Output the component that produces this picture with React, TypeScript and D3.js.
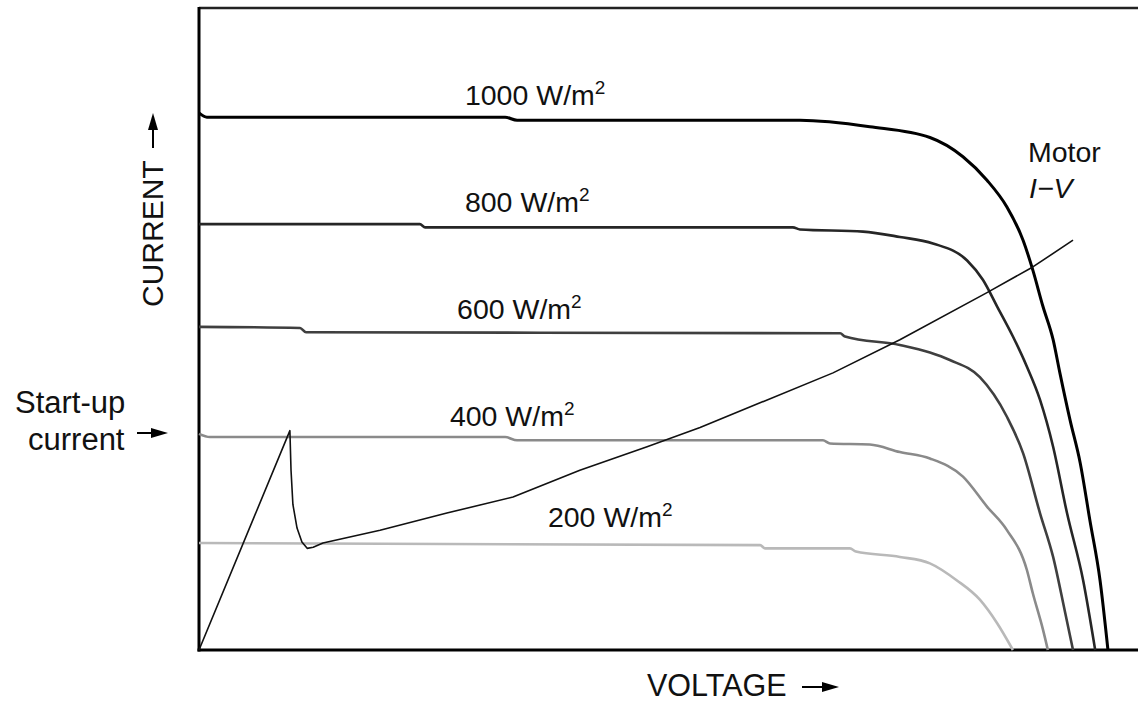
import React from "react";
import * as d3 from "d3";

type Pt = [number, number]; // [voltage, current]

// irradiance levels, W/m²
const levels = [1000, 800, 600, 400, 200];
const levelColors = ["#000000", "#262626", "#3f3f3f", "#8a8a8a", "#b9b9b9"];
const levelWidths = [3, 2.6, 2.6, 2.6, 2.6];

const curve1000: Pt[] = [
  [0, 5.02], [0.21, 4.98], [8.15, 4.98], [8.47, 4.95], [16.0, 4.95], [17.86, 4.89],
  [19.46, 4.79], [20.34, 4.61], [20.98, 4.39], [21.51, 4.14], [21.94, 3.83], [22.2, 3.55],
  [22.47, 3.21], [22.74, 2.9], [22.92, 2.59], [23.19, 2.15], [23.46, 1.75], [23.72, 1.21],
  [23.99, 0.65], [24.2, 0],
];
const curve800: Pt[] = [
  [0, 3.98], [5.88, 3.98], [6.02, 3.95], [15.81, 3.95], [16.0, 3.93], [17.68, 3.91],
  [18.66, 3.86], [19.54, 3.8], [20.45, 3.64], [20.87, 3.46], [21.25, 3.21], [21.67, 2.93],
  [22.04, 2.65], [22.39, 2.34], [22.74, 1.9], [23.11, 1.28], [23.54, 0.65], [23.86, 0],
];
const curve600: Pt[] = [
  [0, 3.02], [2.69, 3.01], [2.85, 2.97], [17.07, 2.96], [17.2, 2.93], [18.66, 2.85],
  [19.46, 2.78], [19.99, 2.71], [20.79, 2.55], [21.51, 2.18], [21.94, 1.84], [22.39, 1.28],
  [22.74, 0.87], [23.06, 0.35], [23.27, 0],
];
const curve400: Pt[] = [
  [0, 2.02], [0.29, 1.99], [8.15, 1.99], [8.47, 1.96], [16.61, 1.96], [16.8, 1.93],
  [17.86, 1.92], [18.66, 1.85], [19.46, 1.79], [20.34, 1.62], [20.98, 1.34], [21.51, 1.12],
  [22.04, 0.75], [22.2, 0.53], [22.47, 0.19], [22.6, 0],
];
const curve200: Pt[] = [
  [0, 1.0], [14.94, 0.98], [15.07, 0.95], [17.33, 0.95], [17.49, 0.92], [18.66, 0.87],
  [19.46, 0.81], [20.18, 0.65], [20.79, 0.47], [21.25, 0.25], [21.67, 0],
];
const curves = [curve1000, curve800, curve600, curve400, curve200];

const motorCurve: Pt[] = [
  [0, 0], [2.42, 2.05], [2.45, 1.68], [2.5, 1.36], [2.61, 1.14], [2.74, 1.01], [2.88, 0.95],
  [3.04, 0.96], [3.3, 1.0], [4.82, 1.12], [6.6, 1.28], [8.36, 1.43], [10.14, 1.68],
  [11.93, 1.9], [13.34, 2.08], [16.88, 2.59], [18.66, 2.9], [20.98, 3.34], [22.2, 3.58],
  [23.27, 3.83],
];

// label anchors: [voltage, current] of the text baseline start
const levelLabelPos: Pt[] = [
  [7.08, 5.0], [7.08, 4.0], [6.87, 3.0], [6.68, 2.0], [9.29, 1.06],
];

export default function App() {
  const width = 1138;
  const height = 703;
  const x = d3.scaleLinear().domain([0, 25]).range([199, 1138]);
  const y = d3.scaleLinear().domain([0, 6]).range([650, 8]);
  const smooth = d3
    .line<Pt>()
    .x((d) => x(d[0]))
    .y((d) => y(d[1]))
    .curve(d3.curveMonotoneX);
  const line = d3
    .line<Pt>()
    .x((d) => x(d[0]))
    .y((d) => y(d[1]));

  const font = "'Liberation Sans', Arial, Helvetica, sans-serif";
  const fs = 28.5;
  const fsBig = 31;

  const arrowHead = (x0: number, y0: number, dir: "right" | "up") =>
    dir === "right"
      ? `M${x0},${y0} L${x0 - 17},${y0 - 5} L${x0 - 17},${y0 + 5} Z`
      : `M${x0},${y0} L${x0 - 5},${y0 + 17} L${x0 + 5},${y0 + 17} Z`;

  return (
    <svg
      width={width}
      height={height}
      style={{ position: "absolute", left: 0, top: 0, background: "#fff" }}
      fontFamily={font}
    >
      {/* frame */}
      <line x1={x(0)} y1={y(6)} x2={1138} y2={y(6)} stroke="#222" strokeWidth={2.5} />
      <line x1={x(0)} y1={y(6) - 1} x2={x(0)} y2={y(0) + 1.5} stroke="#000" strokeWidth={3} />
      <line x1={x(0) - 1.5} y1={y(0)} x2={1138} y2={y(0)} stroke="#000" strokeWidth={3} />

      {curves.map((c, i) => (
        <path
          key={levels[i]}
          d={smooth(c) || ""}
          fill="none"
          stroke={levelColors[i]}
          strokeWidth={levelWidths[i]}
          strokeLinejoin="round"
        />
      ))}

      <path d={line(motorCurve) || ""} fill="none" stroke="#111" strokeWidth={1.6} strokeLinejoin="round" />

      {levels.map((lv, i) => (
        <text
          key={"l" + lv}
          x={x(levelLabelPos[i][0])}
          y={y(levelLabelPos[i][1]) - 10}
          fontSize={fs}
          fill="#111"
        >
          {lv} W/m
          <tspan fontSize={19} dy={-11}>2</tspan>
        </text>
      ))}

      <text x={1028} y={162} fontSize={fs} fill="#111">Motor</text>
      <text x={1029} y={198} fontSize={fs} fill="#111" fontStyle="italic">I−V</text>

      <text x={15} y={413} fontSize={fsBig} fill="#111">Start-up</text>
      <text x={28} y={450} fontSize={fsBig} fill="#111">current</text>
      <line x1={137} y1={433} x2={155} y2={433} stroke="#000" strokeWidth={2} />
      <path d={arrowHead(168, 433, "right")} fill="#000" />

      <text
        transform={`translate(163, 307) rotate(-90)`}
        fontSize={30}
        fill="#111"
      >
        CURRENT
      </text>
      <line x1={153} y1={148} x2={153} y2={126} stroke="#000" strokeWidth={2} />
      <path d={arrowHead(153, 113, "up")} fill="#000" />

      <text x={647} y={696} fontSize={30.5} fill="#111">VOLTAGE</text>
      <line x1={802} y1={687} x2={826} y2={687} stroke="#000" strokeWidth={2} />
      <path d={arrowHead(839, 687, "right")} fill="#000" />
    </svg>
  );
}
